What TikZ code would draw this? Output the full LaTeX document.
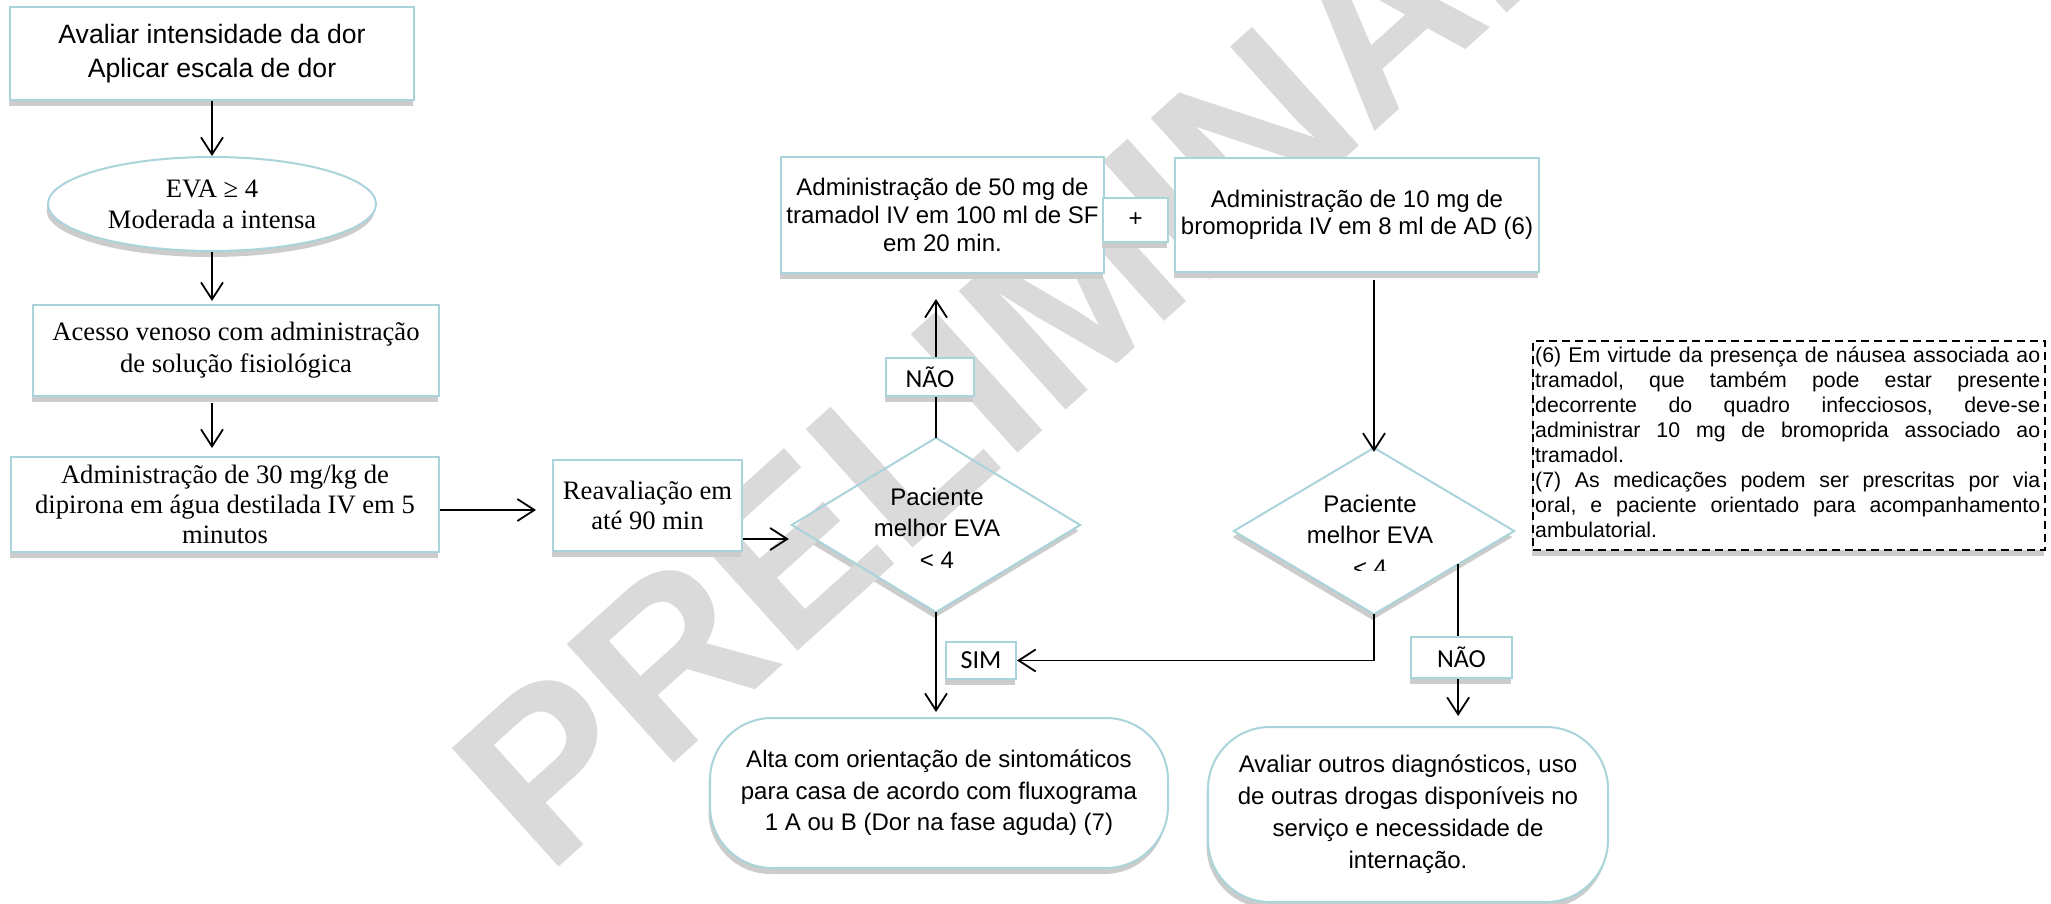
\documentclass[tikz,border=0pt]{standalone}
\usepackage{fontspec}
\setmainfont{Liberation Sans}
\newfontfamily\timesface{Liberation Serif}
\newfontfamily\calibface{Carlito}
\usetikzlibrary{arrows.meta,shapes.geometric,shadows,calc}

\definecolor{boxline}{RGB}{168,212,218}
\definecolor{shadowgray}{RGB}{204,204,204}
\definecolor{wmark}{RGB}{218,218,218}

% one fully justified line of the footnote box (words separated by \hfill)
\newcommand\noteline[1]{\leavevmode\hbox to 505pt{#1}}

\tikzset{
  sh/.style={drop shadow={shadow xshift=-1.5pt, shadow yshift=-6pt, fill=shadowgray, opacity=1}},
  box/.style={rectangle, draw=boxline, line width=2pt, fill=white, inner sep=0pt, align=center, sh},
  roundbox/.style={box, rounded corners=62pt},
  decision/.style={diamond, inner sep=0pt, fill=white, sh},
  sansL/.style={font=\fontsize{26.6pt}{34pt}\selectfont},
  serifL/.style={font=\timesface\fontsize{26.6pt}{#1}\selectfont},
  sansM/.style={font=\fontsize{24pt}{#1}\selectfont},
  tag/.style={box, font=\calibface\fontsize{26pt}{30pt}\selectfont},
  arr/.style={line width=1.8pt, -{Straight Barb[length=17pt,width=22pt]}},
  link/.style={line width=1.8pt},
}

\begin{document}
\begin{tikzpicture}[x=1pt,y=-1pt]
\useasboundingbox (0,0) rectangle (2051,904);
\fill[white] (0,0) rectangle (2051,904);

% decision diamonds: shadow and white ground
\node[decision, minimum width=288pt, minimum height=174pt] (d1) at (936,525) {};
\node[decision, minimum width=280pt, minimum height=166pt] (d2) at (1374,531) {};

% watermark
\node[rotate=42, text=wmark, font=\bfseries\fontsize{232pt}{232pt}\selectfont, inner sep=0pt] (wm) at (1030,335) {PRELIMINAR};

% left column
\node[box, sansL, minimum width=404pt, minimum height=93pt] (b1) at (212,53.5)
  {Avaliar intensidade da dor\\Aplicar escala de dor};
\node[ellipse, draw=boxline, line width=2pt, fill=white, sh, inner sep=0pt, align=center,
  minimum width=328pt, minimum height=94pt, serifL=31pt] (e1) at (212,204)
  {EVA ≥ 4\\Moderada a intensa};
\node[box, serifL=32pt, minimum width=406pt, minimum height=91pt] (b3) at (236,350.5)
  {Acesso venoso com administração\\de solução fisiológica};
\node[box, serifL=30pt, minimum width=428pt, minimum height=95pt] (b4) at (225,504.5)
  {Administração de 30 mg/kg de\\dipirona em água destilada IV em 5\\minutos};
\node[box, serifL=30pt, minimum width=189pt, minimum height=91pt] (reav) at (647.5,505.5)
  {Reavaliação em\\até 90 min};

% medication boxes
\node[box, sansM=28pt, minimum width=323pt, minimum height=116pt] (tram) at (942.5,215)
  {Administração de 50 mg de\\tramadol IV em 100 ml de SF\\em 20 min.};
\node[box, sansM=27.5pt, minimum width=364pt, minimum height=114pt] (brom) at (1357,215)
  {Administração de 10 mg de\\bromoprida IV em 8 ml de AD (6)};
\node[box, sansM=27pt, minimum width=65pt, minimum height=44pt] (plus) at (1135.5,220) {+};

% branch labels
\node[tag, minimum width=88pt, minimum height=38pt] (nao1) at (930,377) {NÃO};
\node[tag, minimum width=70pt, minimum height=37pt] (sim) at (981,660.5) {SIM};
\node[tag, minimum width=101pt, minimum height=41pt] (nao2) at (1461.5,657.5) {NÃO};

% outcomes
\node[roundbox, sansM=31.5pt, minimum width=458pt, minimum height=150pt] (alta) at (939,793)
  {Alta com orientação de sintomáticos\\para casa de acordo com fluxograma\\1 A ou B (Dor na fase aguda) (7)};
\node[roundbox, sansM=32pt, minimum width=400pt, minimum height=175pt] (outros) at (1408,814.5)
  {Avaliar outros diagnósticos, uso\\de outras drogas disponíveis no\\serviço e necessidade de\\internação.};

% footnotes
\node[draw=black, line width=1.6pt, dash pattern=on 8pt off 5pt, fill=white, sh,
  minimum width=512pt, minimum height=209pt, inner sep=0pt] (note) at (1789,445.5) {};
\node[anchor=north west, inner sep=0pt, align=left, text width=505pt,
  font=\fontsize{21.3pt}{25pt}\selectfont] (notetext) at (1535,347)
  {\noteline{(6) Em\hfill virtude\hfill da\hfill presença\hfill de\hfill náusea\hfill associada\hfill ao}\\
   \noteline{tramadol,\hfill que\hfill também\hfill pode\hfill estar\hfill presente}\\
   \noteline{decorrente\hfill do\hfill quadro\hfill infecciosos,\hfill deve-se}\\
   \noteline{administrar\hfill 10\hfill mg\hfill de\hfill bromoprida\hfill associado\hfill ao}\\
   tramadol.\\
   \noteline{(7)\hfill As\hfill medicações\hfill podem\hfill ser\hfill prescritas\hfill por\hfill via}\\
   \noteline{oral,\hfill e\hfill paciente\hfill orientado\hfill para\hfill acompanhamento}\\
   ambulatorial.};

% diamond outlines and questions
\draw[draw=boxline, line width=2pt] (d1.north) -- (d1.east) -- (d1.south) -- (d1.west) -- cycle;
\draw[draw=boxline, line width=2pt] (d2.north) -- (d2.east) -- (d2.south) -- (d2.west) -- cycle;
\node[sansM=31.5pt, align=center, inner sep=0pt] (d1txt) at (937,528) {Paciente\\melhor EVA\\< 4};
\node[sansM=31pt, align=center, inner sep=0pt] (d2txt) at (1370,519) {Paciente\\melhor EVA};
\begin{scope}
  \clip (1300,548) rectangle (1440,570);
  \node[sansM=27pt, anchor=base, inner sep=0pt] (d2lt) at (1370,576) {< 4};
\end{scope}

% connectors
\draw[arr] (b1.south) -- (e1.north);
\draw[arr] (e1.south) -- ($(b3.north -| e1.south)+(0,-3)$);
\draw[arr] ($(b3.south -| e1.south)+(0,6)$) -- ($(b4.north -| e1.south)+(0,-8)$);
\draw[arr] ($(b4.east)+(0,5.5)$) -- ($(reav.west)+(-16,4.5)$);
\draw[arr] ($(reav.east)+(0,33.5)$) -- ($(d1.west)+(-3,14)$);
\draw[link] (d1.north) -- (d1.north |- nao1.south);
\draw[arr] (d1.north |- nao1.north) -- ($(d1.north |- tram.south)+(0,25)$);
\draw[arr] (d1.south) -- ($(d1.south |- alta.north)+(0,-5)$);
\draw[arr] ($(brom.south -| d2.north)+(0,7)$) -- ($(d2.north)+(0,4)$);
\draw[arr] (d2.south) |- (sim.east);
\coordinate (d2r) at ($(d2.east)!0.4!(d2.south)$);
\draw[link] (d2r) -- (d2r |- nao2.north);
\draw[arr] (d2r |- nao2.south) -- ($(d2r |- outros.north)+(0,-10)$);
\end{tikzpicture}
\end{document}
